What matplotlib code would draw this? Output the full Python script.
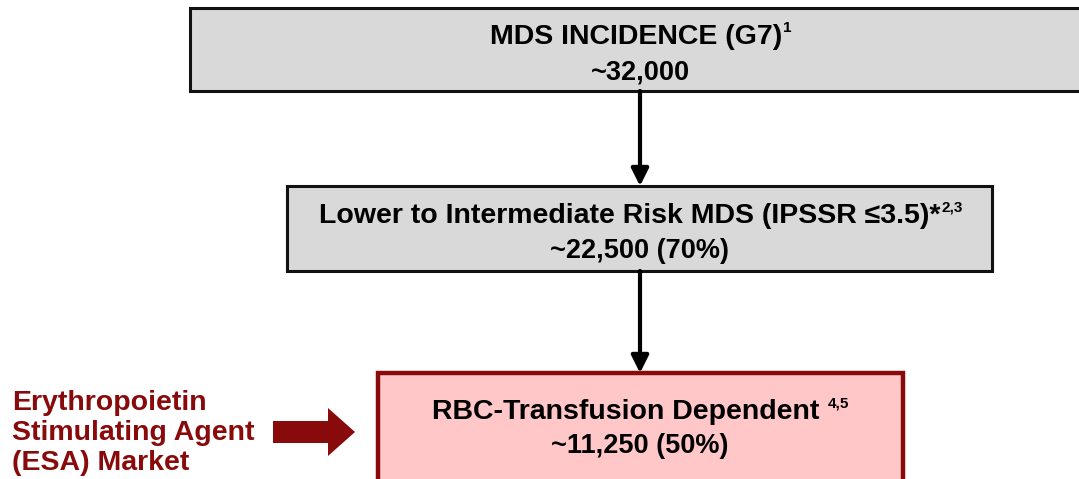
import matplotlib
matplotlib.use('Agg')
import matplotlib.pyplot as plt
from matplotlib import patches

# data
titles = ['MDS INCIDENCE (G7)', 'Lower to Intermediate Risk MDS (IPSSR \u22643.5)*', 'RBC-Transfusion Dependent ']
refs = ['1', '2,3', '4,5']
counts = ['~32,000', '~22,500 (70%)', '~11,250 (50%)']
side_label = 'Erythropoietin\nStimulating Agent\n(ESA) Market'

FONT = ['Liberation Sans Narrow', 'Liberation Sans', 'DejaVu Sans']
DARK_RED = '#880a0a'

# box layout (pixels, y from top)
boxes = [
    dict(x0=190, x1=1090, y0=8, y1=91, fc='#d9d9d9', ec='#111111', lw=2.2),
    dict(x0=287, x1=992, y0=186, y1=271, fc='#d9d9d9', ec='#111111', lw=2.2),
    dict(x0=378, x1=903, y0=373, y1=490, fc='#ffc7c7', ec=DARK_RED, lw=3.2),
]
title_y = [37, 216, 412]
count_y = [72, 251, 446]

fig = plt.figure(figsize=(10.79, 4.79), dpi=100)
ax = fig.add_axes([0, 0, 1, 1])
ax.set_xlim(0, 1079)
ax.set_ylim(479, 0)
ax.axis('off')

renderer = fig.canvas.get_renderer()
for b, t, r, c, ty, cy in zip(boxes, titles, refs, counts, title_y, count_y):
    ax.add_patch(patches.Rectangle((b['x0'], b['y0']), b['x1'] - b['x0'], b['y1'] - b['y0'],
                                   facecolor=b['fc'], edgecolor=b['ec'], linewidth=b['lw']))
    # title + superscript, centred together
    txt = ax.text(0, ty, t, fontsize=20.5, fontweight='bold', family=FONT, va='center', ha='left')
    sup = ax.text(0, ty - 9, r, fontsize=11, fontweight='bold', family=FONT, va='center', ha='left')
    w1 = txt.get_window_extent(renderer).width
    w2 = sup.get_window_extent(renderer).width
    cx = 640
    start = cx - (w1 + w2) / 2
    txt.set_x(start)
    sup.set_x(start + w1 + 1)
    ax.text(cx, cy, c, fontsize=19.5, fontweight='bold', family=FONT, va='center', ha='center')

# connecting arrows
for a, b in zip(boxes[:-1], boxes[1:]):
    ax.annotate('', xy=(640, b['y0']), xytext=(640, a['y1']),
                arrowprops=dict(arrowstyle='-|>', color='black', lw=3, mutation_scale=26,
                                shrinkA=0, shrinkB=0))

# side label and block arrow
ax.text(12, 433, side_label, fontsize=20.5, fontweight='bold', family=FONT, color=DARK_RED,
        va='center', ha='left', linespacing=1.22)
ax.add_patch(patches.FancyArrow(273, 432, 82, 0, width=22, head_width=48, head_length=27,
                                length_includes_head=True, color=DARK_RED, lw=0))

fig.savefig('out.png', dpi=100)
